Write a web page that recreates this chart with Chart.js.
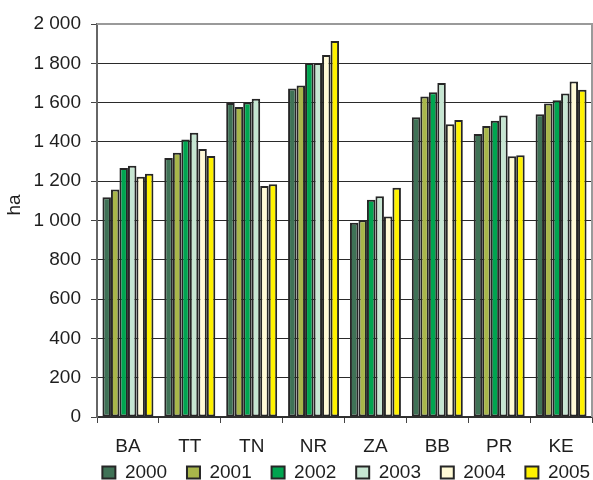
<!DOCTYPE html>
<html>
<head>
<meta charset="utf-8">
<script src="https://cdn.jsdelivr.net/npm/chart.js@4/dist/chart.umd.min.js"></script>
<style>
  html, body { margin: 0; padding: 0; background: #fff; overflow: hidden; }
  #wrap { width: 593px; height: 492px; }
</style>
</head>
<body>
<div id="wrap"><canvas id="grafico"></canvas></div>
<script>
var kraje = ["BA", "TT", "TN", "NR", "ZA", "BB", "PR", "KE"];
var roky = ["2000", "2001", "2002", "2003", "2004", "2005"];

var ha2000 = [1118, 1318, 1598, 1672, 988, 1525, 1440, 1541];
var ha2001 = [1158, 1345, 1578, 1687, 1001, 1631, 1481, 1595];
var ha2002 = [1267, 1412, 1600, 1802, 1105, 1653, 1508, 1612];
var ha2003 = [1279, 1446, 1620, 1802, 1124, 1700, 1534, 1646];
var ha2004 = [1223, 1364, 1175, 1842, 1020, 1490, 1327, 1708];
var ha2005 = [1238, 1328, 1185, 1913, 1167, 1512, 1332, 1665];

var yMin = 0, yMax = 2000, yKrok = 200;

var farby = ["#3f7256", "#a8b64a", "#00a550", "#c6e6d2", "#fffad6", "#fff200"];
var hodnoty = [ha2000, ha2001, ha2002, ha2003, ha2004, ha2005];

var pismo = { family: "'Liberation Sans', Arial, sans-serif", size: 19 };
Chart.defaults.color = "#1e1e1e";

var datasets = [];
for (var i = 0; i < roky.length; i++) {
  datasets.push({
    label: roky[i],
    data: hodnoty[i],
    backgroundColor: farby[i],
    borderColor: "#262626",
    borderWidth: 2,
    borderSkipped: false
  });
}

// nazov osi "ha", sivy ramik grafu a posun legendy
var ramik = {
  id: "ramik",
  afterLayout: function (chart) {
    chart.legend.left += 18;
    chart.legend.right += 18;
  },
  beforeDatasetsDraw: function (chart) {
    var a = chart.chartArea, ctx = chart.ctx;
    ctx.save();
    ctx.strokeStyle = "#9a9a9a";
    ctx.lineWidth = 2;
    ctx.beginPath();
    ctx.moveTo(a.left, a.top);
    ctx.lineTo(a.right, a.top);
    ctx.lineTo(a.right, a.bottom);
    ctx.stroke();
    ctx.restore();
  },
  afterDraw: function (chart) {
    var ctx = chart.ctx;
    ctx.save();
    ctx.translate(15, 205);
    ctx.rotate(-Math.PI / 2);
    ctx.font = "19px 'Liberation Sans', Arial, sans-serif";
    ctx.fillStyle = "#1e1e1e";
    ctx.textAlign = "center";
    ctx.textBaseline = "middle";
    ctx.fillText("ha", 0, 0);
    ctx.restore();
  }
};

new Chart(document.getElementById("grafico"), {
  type: "bar",
  data: { labels: kraje, datasets: datasets },
  plugins: [ramik],
  options: {
    responsive: true,
    maintainAspectRatio: false,
    animation: false,
    layout: { padding: { top: 24, right: 1, bottom: 0, left: 0 } },
    datasets: { bar: { categoryPercentage: 0.824, barPercentage: 1 } },
    plugins: {
      tooltip: { enabled: false },
      legend: {
        position: "bottom",
        align: "end",
        labels: {
          font: pismo,
          boxWidth: 13,
          boxHeight: 12,
          padding: 4,
          color: "#1e1e1e",
          generateLabels: function (chart) {
            var polozky = Chart.defaults.plugins.legend.labels.generateLabels(chart);
            polozky.forEach(function (p) { p.text = p.text + "   "; });
            return polozky;
          }
        }
      }
    },
    scales: {
      x: {
        grid: {
          offset: true,
          drawOnChartArea: false,
          drawTicks: true,
          tickLength: 6,
          color: "#444"
        },
        border: { color: "#333", width: 1.5 },
        ticks: { font: pismo, padding: 12 },
        afterFit: function (s) { s.height = 42; }
      },
      y: {
        min: yMin,
        max: yMax,
        grid: {
          color: function (c) { return c.tick && c.tick.value === yMax ? "rgba(0,0,0,0)" : "#2a2a2a"; },
          tickColor: "#444",
          tickLength: 6,
          lineWidth: 1
        },
        border: { color: "#666", width: 2 },
        ticks: {
          stepSize: yKrok,
          font: pismo,
          padding: 10,
          callback: function (v) { return String(v).replace(/\B(?=(\d{3})+(?!\d))/g, " "); }
        },
        afterFit: function (s) { s.width = 97; }
      }
    }
  }
});
</script>
</body>
</html>
